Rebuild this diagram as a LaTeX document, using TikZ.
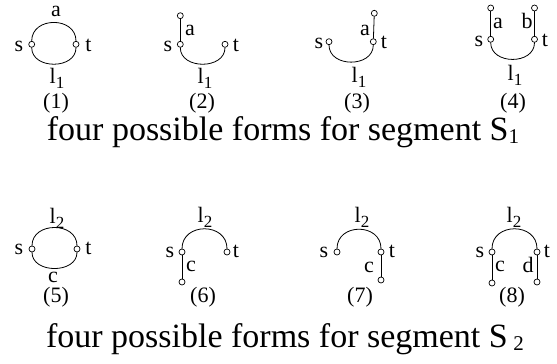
\documentclass[tikz,border=0pt]{standalone}
\usepackage{fontspec}
\setmainfont{Liberation Serif}
\usetikzlibrary{positioning}
\tikzset{
  every picture/.style={line join=round, line cap=round},
  dot/.style={circle,draw,fill=white,inner sep=0pt,minimum size=6pt,line width=0.7pt},
  lab/.style={inner sep=0pt,anchor=base,font=\fontsize{22}{22}\selectfont},
  capt/.style={inner sep=0pt,anchor=base,font=\fontsize{34}{34}\selectfont},
}
\newcommand{\lsub}[3][17]{\raisebox{#2}{\fontsize{#1}{#1}\selectfont #3}}

\begin{document}
\begin{tikzpicture}[x=1pt,y=1pt,line width=0.8pt]
\useasboundingbox (0,0) rectangle (557,364);

\node[dot](s1)at(31.7,319.7){};
\node[dot](t1)at(76,319.7){};
\draw(s1)to[out=90,in=90,looseness=1.43](t1);
\draw(s1)to[out=-90,in=-90,looseness=1.28](t1);
\node[lab](la1)at(56,347.3){a};
\node[lab](ls1)at(19,312.3){s};
\node[lab](lt1)at(88.5,312.3){t};
\node[lab](ll1)at(57,280){l\lsub{-5pt}{1}};
\node[lab](lp1)at(56,255){(1)};

\node[dot](s2)at(180.3,319.7){};
\node[dot](t2)at(225,319.7){};
\node[dot](a2)at(180.3,348.3){};
\draw(s2)to[out=-90,in=-90,looseness=1.27](t2);
\draw(s2)--(a2);
\node[lab](la2)at(190,328){a};
\node[lab](ls2)at(168,312.3){s};
\node[lab](lt2)at(236,312.3){t};
\node[lab](ll2)at(205,280){l\lsub{-5pt}{1}};
\node[lab](lp2)at(202,255){(2)};

\node[dot](s3)at(329,322.3){};
\node[dot](t3)at(373.3,322.3){};
\node[dot](a3)at(374.3,350.7){};
\draw(s3)to[out=-90,in=-90,looseness=1.32](t3);
\draw(t3)--(a3);
\node[lab](la3)at(365,328){a};
\node[lab](ls3)at(319,315){s};
\node[lab](lt3)at(384,315){t};
\node[lab](ll3)at(359,281){l\lsub{-5pt}{1}};
\node[lab](lp3)at(357,255){(3)};

\node[dot](s4)at(490.7,324.7){};
\node[dot](t4)at(534.5,324.7){};
\node[dot](a4)at(490.7,356){};
\node[dot](b4)at(534.5,356){};
\draw(s4)to[out=-90,in=-90,looseness=1.31](t4);
\draw(s4)--(a4);
\draw(t4)--(b4);
\node[lab](la4)at(498,335){a};
\node[lab](lb4)at(527,335){b};
\node[lab](ls4)at(479,317.5){s};
\node[lab](lt4)at(545,317.5){t};
\node[lab](ll4)at(515,283){l\lsub{-5pt}{1}};
\node[lab](lp4)at(513,255){(4)};

\node[capt](cap1)at(283,223){four possible forms for segment S\lsub[21]{-3pt}{1}};

\node[dot](s5)at(32,115){};
\node[dot](t5)at(77,115){};
\draw(s5)to[out=90,in=90,looseness=1.38](t5);
\draw(s5)to[out=-90,in=-90,looseness=1.23](t5);
\node[lab](ll5)at(57,140){l\lsub{-5pt}{2}};
\node[lab](ls5)at(19,109){s};
\node[lab](lt5)at(88.5,109){t};
\node[lab](lc5)at(53,81){c};
\node[lab](lp5)at(56,61){(5)};

\node[dot](s6)at(182,112){};
\node[dot](t6)at(227,112){};
\node[dot](c6)at(182,82){};
\draw(s6)to[out=90,in=90,looseness=1.51](t6);
\draw(s6)--(c6);
\node[lab](ll6)at(205,141){l\lsub{-5pt}{2}};
\node[lab](ls6)at(170,106){s};
\node[lab](lt6)at(236,106){t};
\node[lab](lc6)at(191,92){c};
\node[lab](lp6)at(203,61){(6)};

\node[dot](s7)at(337,112){};
\node[dot](t7)at(381,112){};
\node[dot](c7)at(381,84){};
\draw(s7)to[out=90,in=90,looseness=1.51](t7);
\draw(t7)--(c7);
\node[lab](ll7)at(362,141){l\lsub{-5pt}{2}};
\node[lab](ls7)at(324,106){s};
\node[lab](lt7)at(392,106){t};
\node[lab](lc7)at(369,91){c};
\node[lab](lp7)at(360,61){(7)};

\node[dot](s8)at(492,112){};
\node[dot](t8)at(537,112){};
\node[dot](c8)at(492,81){};
\node[dot](d8)at(537,82){};
\draw(s8)to[out=90,in=90,looseness=1.51](t8);
\draw(s8)--(c8);
\draw(t8)--(d8);
\node[lab](ll8)at(514,141){l\lsub{-5pt}{2}};
\node[lab](ls8)at(480,106){s};
\node[lab](lt8)at(547,106){t};
\node[lab](lc8)at(500,92){c};
\node[lab](ld8)at(528,91){d};
\node[lab](lp8)at(512,61){(8)};

\node[capt](cap2)at(285,16){four possible forms for segment S\,\lsub[21]{-3pt}{2}};
\end{tikzpicture}
\end{document}
